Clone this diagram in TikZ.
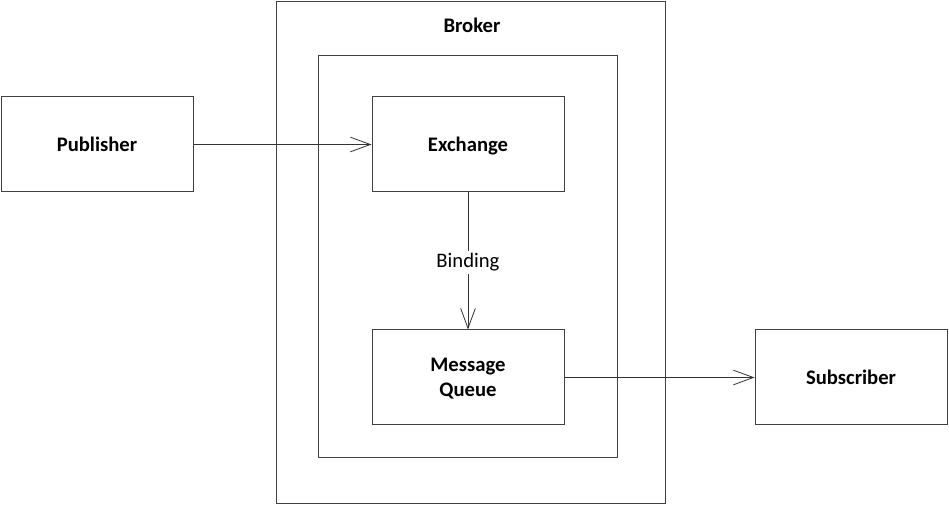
\documentclass[tikz,border=0pt]{standalone}
\usepackage{fontspec}
\setmainfont{Carlito}
\usetikzlibrary{arrows.meta}
\definecolor{linegray}{HTML}{404040}
\begin{document}
\begin{tikzpicture}[x=0.75pt,y=-0.75pt,
  every node/.style={font=\fontsize{15.5}{18.5}\selectfont},
  box/.style={draw=linegray,line width=0.75pt,rectangle,inner sep=0pt,text depth=0pt,
    minimum width=144pt,minimum height=71.25pt,align=center,font=\fontsize{15.5}{18.5}\selectfont\bfseries},
  frame/.style={draw=linegray,line width=0.75pt},
  conn/.style={draw=black!80,line width=0.6pt,-{Straight Barb[length=15pt,width=11pt]}}]
\useasboundingbox (0,0) rectangle (949,505);
\draw[frame] (276.5,1.5) rectangle (665.5,503.5);
\draw[frame] (318.5,55.5) rectangle (617.5,457.5);
\node[font=\fontsize{15.5}{18.5}\selectfont\bfseries] (broker) at (472,25) {Broker};
\node[box] (pub) at (97,144.5) {Publisher};
\node[box] (ex) at (468,144.5) {Exchange};
\node[box] (mq) at (468,377.5) {Message\\Queue};
\node[box] (sub) at (851,377.5) {Subscriber};
\draw[conn] (pub) -- (ex);
\draw[conn] (ex) -- node[fill=white,inner sep=2pt,yshift=-1pt] (bind) {Binding} (mq);
\draw[conn] (mq) -- (sub);
\end{tikzpicture}
\end{document}
